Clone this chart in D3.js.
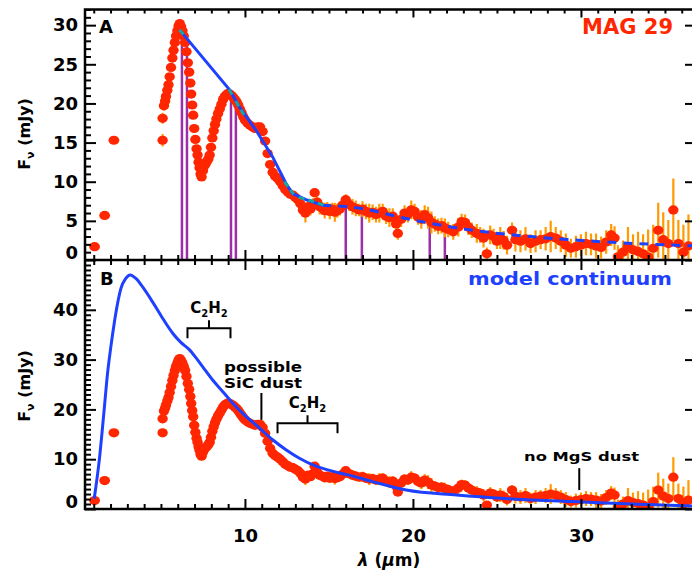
<!DOCTYPE html>
<html><head><meta charset="utf-8">
<script src="https://cdn.jsdelivr.net/npm/d3@7"></script>
<style>body{margin:0;background:#fff}svg{display:block}text{font-family:'DejaVu Sans',sans-serif;font-weight:bold}</style>
</head><body><svg id="c" width="692" height="572"></svg>
<script>
// ---------- data ----------
const photLambda = [1.05, 1.65, 2.2];
const photFlux   = [1.7, 5.7, 15.3];

const specLambda = [5.10,5.10,5.18,5.25,5.30,5.38,5.45,5.52,5.60,5.68,5.75,5.83,5.90,5.98,6.05,6.12,6.20,6.28,6.36,6.44,6.52,6.60,6.68,6.75,6.80,6.86,6.92,6.98,7.05,7.12,7.18,7.24,7.30,7.36,7.42,7.50,7.58,7.66,7.74,7.82,7.90,7.98,8.06,8.14,8.22,8.30,8.40,8.50,8.60,8.70,8.80,8.90,9.00,9.10,9.20,9.30,9.40,9.50,9.60,9.70,9.80,9.90,10.00,10.15,10.30,10.45,10.60,10.75,10.90,11.05,11.20,11.35,11.50,11.65,11.80,11.95,12.10,12.25,12.40,12.55,12.70,12.85,13.00,13.15,13.30,13.45,13.60,13.75,13.90,14.05,14.15,14.30,14.45,14.60,14.75,14.90,15.05,15.20,15.35,15.50,15.65,15.80,16.00,16.20,16.40,16.60,16.80,17.00,17.20,17.40,17.60,17.80,18.00,18.20,18.40,18.60,18.80,19.00,19.10,19.30,19.50,19.70,19.90,20.10,20.30,20.50,20.70,20.90,21.10,21.30,21.50,21.70,21.90,22.10,22.40,22.70,22.90,23.10,23.30,23.50,23.80,24.00,24.20,24.40,24.60,24.80,25.00,25.20,25.40,25.60,25.90,26.10,26.40,26.70,27.00,27.30,27.60,27.90,28.20,28.50,28.80,29.10,29.40,29.70,30.00,30.30,30.60,30.90,31.20,31.50,31.80,32.00,32.20,32.50,32.80,33.10,33.40,33.70,34.00,34.30,34.60,34.90,35.20,35.50,35.80,36.10,36.40];
const specFlux = [15.3,18.1,19.7,20.3,20.9,21.7,22.4,23.4,24.6,25.8,26.8,27.8,28.6,29.3,29.9,30.2,29.8,29.3,28.6,27.8,26.6,25.2,24.0,22.6,21.2,19.8,18.5,16.8,15.4,14.2,13.4,12.5,11.8,11.0,10.6,11.4,12.0,12.3,12.6,12.9,13.4,14.4,15.6,16.5,17.3,18.0,18.7,19.3,19.9,20.5,20.9,21.1,21.3,21.2,21.0,20.8,20.5,20.2,19.8,19.3,18.8,18.3,17.9,17.5,17.2,17.0,16.8,17.0,17.0,16.4,15.2,13.6,12.2,11.2,10.7,10.4,10.0,9.5,9.0,8.7,8.4,8.3,8.0,7.7,7.2,6.4,6.0,6.8,6.5,7.1,8.6,7.4,6.8,6.6,6.3,6.6,6.2,6.5,6.1,6.3,6.5,7.0,7.7,7.1,6.8,6.6,6.4,6.5,6.2,6.0,6.1,5.8,6.0,6.2,5.6,5.4,5.6,4.6,3.4,5.2,6.0,5.8,6.4,6.2,5.5,5.2,5.8,5.4,4.8,4.6,4.3,4.4,4.1,3.9,3.6,4.2,4.9,4.8,4.2,3.8,3.4,3.2,2.8,0.8,3.2,3.0,2.4,2.8,2.5,1.9,3.8,2.6,2.4,2.7,2.1,2.4,2.6,2.7,3.0,2.8,2.4,1.9,1.5,1.7,1.9,2.1,2.0,1.8,1.6,2.3,3.2,2.8,0.4,1.0,1.7,1.3,1.1,0.8,0.4,1.5,3.8,2.6,2.1,6.4,2.1,1.0,1.8];
const specErr = [0.8,0.7,0.6,0.5,0.5,0.4,0.4,0.4,0.4,0.4,0.4,0.4,0.4,0.5,0.5,0.5,0.4,0.4,0.4,0.4,0.4,0.4,0.4,0.4,0.4,0.4,0.4,0.4,0.4,0.4,0.4,0.4,0.4,0.5,0.5,0.4,0.4,0.4,0.4,0.4,0.4,0.4,0.4,0.4,0.4,0.4,0.4,0.4,0.4,0.4,0.4,0.4,0.4,0.4,0.4,0.4,0.4,0.4,0.4,0.4,0.4,0.4,0.4,0.4,0.4,0.4,0.4,0.4,0.4,0.4,0.4,0.4,0.4,0.4,0.4,0.4,0.4,0.4,0.4,0.5,0.5,0.5,0.6,0.6,0.7,0.9,1.2,0.8,0.8,0.8,0.6,0.7,1.0,0.8,1.0,0.8,1.0,0.8,1.2,0.9,0.8,0.8,0.7,0.8,1.0,1.0,0.8,1.0,1.0,1.2,1.0,1.0,1.2,1.0,1.0,1.2,1.0,1.0,0.8,1.0,1.0,1.0,1.2,1.0,1.0,1.2,1.2,1.4,1.4,1.0,1.0,1.0,1.2,1.0,1.0,1.2,1.0,1.0,1.0,1.0,1.2,1.0,1.2,0.8,1.2,1.0,1.0,1.4,1.2,1.2,1.0,1.5,1.4,1.5,1.2,1.4,1.2,1.5,2.0,1.4,1.4,1.5,1.2,1.4,1.4,1.5,1.4,1.6,1.4,1.5,1.4,1.5,1.5,1.5,2.5,2.0,2.5,2.5,3.5,3.0,3.5,3.5,3.0,4.0,3.0,3.5,4.0];

// model continuum, panel A (solid then dashed), and teal overlay segments
const contALambda = [6.15, 9.1, 9.66, 10.65, 11.64, 12.44, 12.83, 13.63, 14.6];
const contAFlux   = [29.3, 21.7, 19.6, 16.6, 13.2, 9.8, 8.5, 7.7, 7.0];
const contADashLambda = [14.6, 16.85, 19.58, 23.55, 27.5, 31.5, 36.73];
const contADashFlux   = [7.0, 6.6, 5.3, 3.8, 2.9, 2.3, 1.8];
const tealLambda = [6.1, 6.35, null, 9.05, 9.3, null, 9.45, 9.95, null, 12.35, 12.9, null, 13.2, 13.9, 14.7];
const tealFlux   = [29.4, 28.8, null, 21.8, 20.9, null, 20.3, 18.5, null, 10.0, 8.4, null, 8.0, 7.6, 7.0];

// anchor windows (purple)
const anchorLo = [6.25, 9.17, 16.0, 21.0];
const anchorHi = [6.55, 9.46, 16.96, 21.9];
const anchorFluxLo = [29.0, 21.0, 7.7, 5.3];
const anchorFluxHi = [27.3, 20.6, 6.5, 4.4];

// model continuum, panel B
const contBLambda = [1.03,1.33,1.62,1.82,2.02,2.22,2.42,2.62,2.91,3.17,3.51,3.91,4.5,5.1,5.7,6.2,6.69,7.08,7.48,8.08,8.67,9.26,10.06,10.85,11.65,12.44,13.24,14.23,15.2,16.2,17.6,19.6,22.6,25.5,29.5,33.0,36.73];
const contBFlux   = [2.1,9.8,19.9,27.2,32.6,37.3,41.3,44.3,46.3,47.0,46.3,44.6,41.6,38.3,35.3,33.4,32.0,30.4,28.6,25.9,23.6,21.3,18.6,16.3,13.9,11.9,10.2,8.6,7.6,6.8,5.5,3.8,2.8,2.1,1.5,1.0,0.6];

// axis ticks
const xMajor = [10, 20, 30];
const yTicksA = [0, 5, 10, 15, 20, 25, 30];
const yTicksB = [0, 10, 20, 30, 40];

// annotations (panel B)
const brackets = [{lo: 6.58, hi: 9.14, level: 36.3, label: "C2H2"}, {lo: 11.94, hi: 15.51, level: 17.2, label: "C2H2"}];
const markers = [{lam: 10.98, f0: 17.9, f1: 23.3}, {lam: 29.9, f0: 3.8, f1: 8.2}];

// ---------- drawing ----------
const RED = "#ff2600", ORANGE = "#ff9a00", BLUE = "#1e40ff", PURPLE = "#9a2fa8", TEAL = "#16a6a6";
const svg = d3.select("#c");
const L = 85, R = 694, TA = 9.5, BA = 260, TB = 260, BB = 509;
const x = d3.scaleLinear().domain([0.48, 36.73]).range([L, R]);
const yA = d3.scaleLinear().domain([0, 32]).range([BA, TA]);
const yB = d3.scaleLinear().domain([0, 50]).range([BB, TB]);

const defs = svg.append("defs");
defs.append("clipPath").attr("id", "clipA").append("rect").attr("x", L).attr("y", TA).attr("width", R - L).attr("height", BA - TA);
defs.append("clipPath").attr("id", "clipB").append("rect").attr("x", L).attr("y", TB).attr("width", R - L).attr("height", BB - TB);

const spec = specLambda.map((l, i) => ({l, f: specFlux[i], e: specErr[i]}));
const phot = photLambda.map((l, i) => ({l, f: photFlux[i]}));

function drawData(g, y) {
  g.selectAll("line.err").data(spec).join("line").attr("class", "err")
    .attr("x1", d => x(d.l)).attr("x2", d => x(d.l))
    .attr("y1", d => y(d.f - d.e)).attr("y2", d => y(d.f + d.e))
    .attr("stroke", ORANGE).attr("stroke-width", 2.2);
  g.selectAll("ellipse.sp").data(spec).join("ellipse").attr("class", "sp")
    .attr("cx", d => x(d.l)).attr("cy", d => y(d.f)).attr("rx", 5.2).attr("ry", 4.6).attr("fill", RED);
  g.selectAll("ellipse.ph").data(phot).join("ellipse").attr("class", "ph")
    .attr("cx", d => x(d.l)).attr("cy", d => y(d.f)).attr("rx", 5.4).attr("ry", 4.6).attr("fill", RED);
}

// Panel A
const gA = svg.append("g").attr("clip-path", "url(#clipA)");
anchorLo.forEach((lo, i) => {
  const p = d3.path();
  p.moveTo(x(lo), yA(0)); p.lineTo(x(lo), yA(anchorFluxLo[i]));
  p.lineTo(x(anchorHi[i]), yA(anchorFluxHi[i])); p.lineTo(x(anchorHi[i]), yA(0));
  gA.append("path").attr("d", p.toString()).attr("fill", "none").attr("stroke", PURPLE).attr("stroke-width", 2.5);
});
drawData(gA, yA);
const lineA = d3.line().x(d => x(d[0])).y(d => yA(d[1]));
gA.append("path").attr("d", lineA(contALambda.map((l, i) => [l, contAFlux[i]])))
  .attr("fill", "none").attr("stroke", BLUE).attr("stroke-width", 3);
gA.append("path").attr("d", lineA.curve(d3.curveMonotoneX)(contADashLambda.map((l, i) => [l, contADashFlux[i]])))
  .attr("fill", "none").attr("stroke", BLUE).attr("stroke-width", 3).attr("stroke-dasharray", "9,7");
const tealLine = d3.line().defined(d => d[0] != null).x(d => x(d[0])).y(d => yA(d[1]));
gA.append("path").attr("d", tealLine(tealLambda.map((l, i) => [l, tealFlux[i]])))
  .attr("fill", "none").attr("stroke", TEAL).attr("stroke-width", 3).attr("stroke-dasharray", "6,4");

// Panel B
const gB = svg.append("g").attr("clip-path", "url(#clipB)");
drawData(gB, yB);
gB.append("path").attr("d", d3.line().x(d => x(d[0])).y(d => yB(d[1])).curve(d3.curveMonotoneX)(contBLambda.map((l, i) => [l, contBFlux[i]])))
  .attr("fill", "none").attr("stroke", BLUE).attr("stroke-width", 3);

// ---------- axes ----------
const font = "DejaVu Sans";
function styleAxis(g) { g.select(".domain").remove(); g.selectAll("line").attr("stroke", "#000").attr("stroke-width", 2); g.selectAll("text").attr("font-family", font).attr("font-weight", "bold").attr("font-size", 18).attr("fill", "#000"); }
const xMinor = d3.range(1, 37).filter(v => !xMajor.includes(v));
svg.append("g").attr("transform", `translate(0,${TA})`).call(d3.axisBottom(x).tickValues(xMajor).tickSize(8).tickFormat("")).call(styleAxis);
svg.append("g").attr("transform", `translate(0,${TA})`).call(d3.axisBottom(x).tickValues(xMinor).tickSize(4).tickFormat("")).call(styleAxis);
svg.append("g").attr("transform", `translate(0,${BA})`).call(d3.axisTop(x).tickValues(xMajor).tickSize(10).tickFormat("")).call(styleAxis);
svg.append("g").attr("transform", `translate(0,${BA})`).call(d3.axisTop(x).tickValues(xMinor).tickSize(5).tickFormat("")).call(styleAxis);
svg.append("g").attr("transform", `translate(0,${TB})`).call(d3.axisBottom(x).tickValues(xMajor).tickSize(10).tickFormat("")).call(styleAxis);
svg.append("g").attr("transform", `translate(0,${TB})`).call(d3.axisBottom(x).tickValues(xMinor).tickSize(5).tickFormat("")).call(styleAxis);
svg.append("g").attr("transform", `translate(0,${BB})`).call(d3.axisBottom(x).tickValues(xMajor).tickSize(-10).tickPadding(20).tickFormat(d3.format("d"))).call(styleAxis);
svg.append("g").attr("transform", `translate(0,${BB})`).call(d3.axisBottom(x).tickValues(xMinor).tickSize(-5).tickFormat("")).call(styleAxis);

function leftAxis(y, major, minorVals, bottom) {
  const g = svg.append("g").attr("transform", `translate(${L},0)`).call(d3.axisLeft(y).tickValues(major).tickSize(-11).tickPadding(7).tickFormat(d3.format("d"))).call(styleAxis);
  g.selectAll(".tick text").attr("y", d => Math.min(0, (bottom - 7) - y(d)));
  svg.append("g").attr("transform", `translate(${L},0)`).call(d3.axisLeft(y).tickValues(minorVals).tickSize(-6).tickFormat("")).call(styleAxis);
  svg.append("g").attr("transform", `translate(${R},0)`).call(d3.axisRight(y).tickValues(major).tickSize(-9).tickFormat("")).call(styleAxis);
}
leftAxis(yA, yTicksA, d3.range(0, 33).filter(v => v % 5 !== 0), BA);
leftAxis(yB, yTicksB, d3.range(0, 50).filter(v => v % 10 !== 0), BB);

svg.append("rect").attr("x", L).attr("y", TA).attr("width", R - L).attr("height", BB - TA).attr("fill", "none").attr("stroke", "#000").attr("stroke-width", 2.5);
svg.append("line").attr("x1", L).attr("x2", R).attr("y1", BA).attr("y2", BA).attr("stroke", "#000").attr("stroke-width", 2.5);

// ---------- labels ----------
svg.append("text").attr("x", 99).attr("y", 33).attr("font-size", 18).text("A");
svg.append("text").attr("x", 100).attr("y", 285).attr("font-size", 18).text("B");
svg.append("text").attr("x", 673).attr("y", 34).attr("text-anchor", "end").attr("font-size", 21).attr("fill", RED).text("MAG 29");
svg.append("text").attr("x", 468).attr("y", 285).attr("font-size", 18).attr("textLength", 204).attr("lengthAdjust", "spacingAndGlyphs").attr("fill", BLUE).text("model continuum");

function yLabel(cy) {
  const t = svg.append("text").attr("transform", `translate(30,${cy}) rotate(-90)`).attr("text-anchor", "middle").attr("font-size", 16);
  t.append("tspan").text("F");
  t.append("tspan").attr("font-size", 11).attr("dy", 4).text("ν");
  t.append("tspan").attr("dy", -4).text(" (mJy)");
}
yLabel(134);
yLabel(386);

const xl = svg.append("text").attr("x", 389).attr("y", 566).attr("text-anchor", "middle").attr("font-size", 17);
xl.append("tspan").attr("font-style", "italic").text("λ");
xl.append("tspan").text(" (");
xl.append("tspan").attr("font-style", "italic").text("μ");
xl.append("tspan").text("m)");

brackets.forEach(b => {
  const cx = (x(b.lo) + x(b.hi)) / 2, yl = yB(b.level);
  const p = d3.path();
  p.moveTo(x(b.lo), yl + 10); p.lineTo(x(b.lo), yl); p.lineTo(x(b.hi), yl); p.lineTo(x(b.hi), yl + 10);
  p.moveTo(cx, yl); p.lineTo(cx, yl - 8);
  svg.append("path").attr("d", p.toString()).attr("fill", "none").attr("stroke", "#000").attr("stroke-width", 2);
  const t = svg.append("text").attr("x", cx).attr("y", yl - 15).attr("text-anchor", "middle").attr("font-size", 15);
  t.append("tspan").text("C");
  t.append("tspan").attr("font-size", 10).attr("dy", 4).text("2");
  t.append("tspan").attr("dy", -4).text("H");
  t.append("tspan").attr("font-size", 10).attr("dy", 4).text("2");
});
markers.forEach(m => {
  svg.append("line").attr("x1", x(m.lam)).attr("x2", x(m.lam)).attr("y1", yB(m.f0)).attr("y2", yB(m.f1)).attr("stroke", "#000").attr("stroke-width", 2);
});
svg.append("text").attr("x", 224).attr("y", 372).attr("font-size", 14).attr("textLength", 78).attr("lengthAdjust", "spacingAndGlyphs").text("possible");
svg.append("text").attr("x", 224).attr("y", 388).attr("font-size", 14).attr("textLength", 78).attr("lengthAdjust", "spacingAndGlyphs").text("SiC dust");
svg.append("text").attr("x", 524).attr("y", 461).attr("font-size", 13).attr("textLength", 115).attr("lengthAdjust", "spacingAndGlyphs").text("no MgS dust");
</script></body></html>
